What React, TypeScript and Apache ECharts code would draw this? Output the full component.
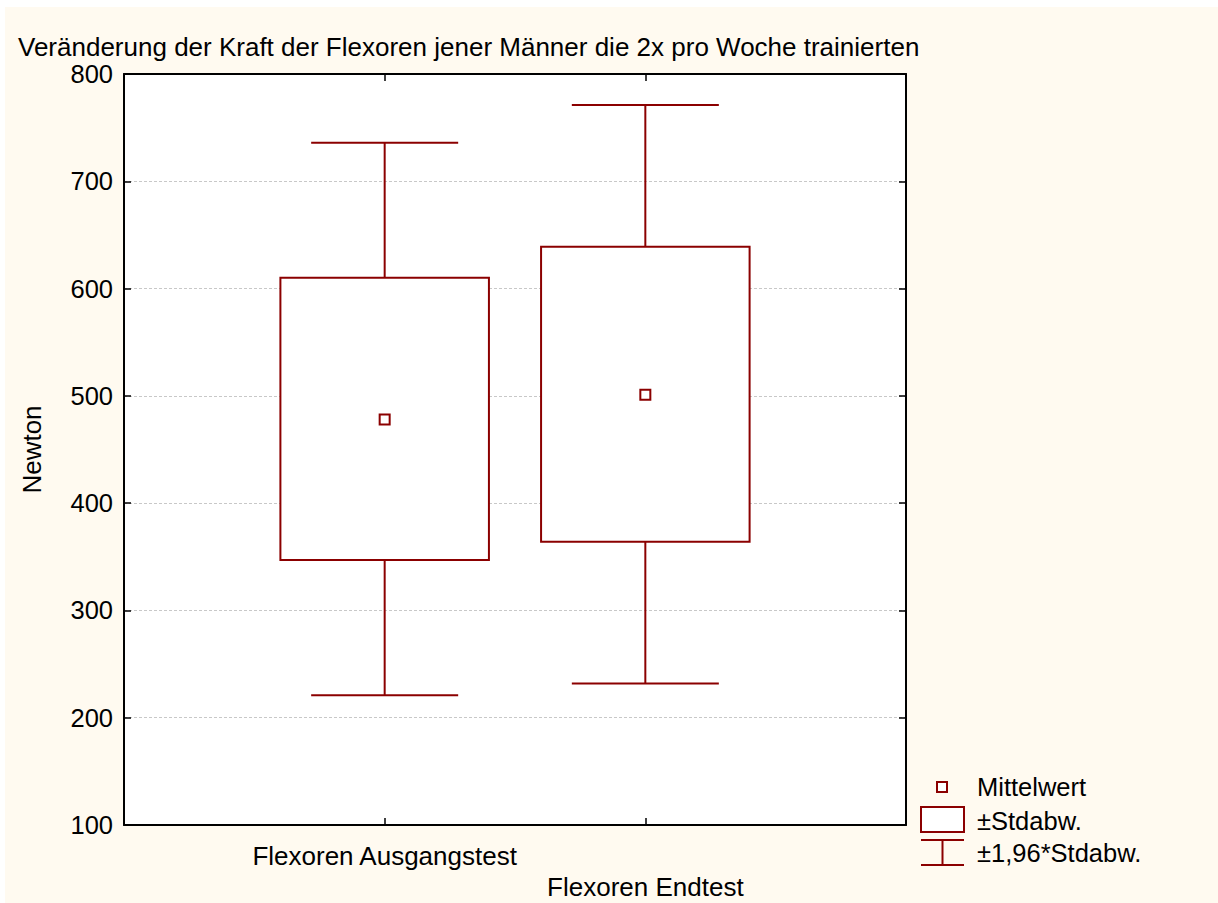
import React, { useEffect, useRef } from "react";
import * as echarts from "echarts";

const categories = ["Flexoren Ausgangstest", "Flexoren Endtest"];
const means = [478, 501];
const sdLower = [347, 364];
const sdUpper = [610, 639];
const ciLower = [221, 232];
const ciUpper = [736, 771];
const yTicks = [100, 200, 300, 400, 500, 600, 700, 800];

const RED = "#8b0000";
const FONT = "'Liberation Sans', Arial, Helvetica, sans-serif";
const FS = 25.5;
const LEG_FS = 25.5;

export default function App() {
  const ref = useRef<HTMLDivElement>(null);
  useEffect(() => {
    document.body.style.margin = "0";
    const chart = echarts.init(ref.current!, undefined, { renderer: "svg" });
    const data = categories.map((_, i) => [i + 1, means[i], sdLower[i], sdUpper[i], ciLower[i], ciUpper[i]]);
    const option: any = {
      animation: false,
      backgroundColor: "#ffffff",
      textStyle: { fontFamily: FONT },
      title: {
        text: "Veränderung der Kraft der Flexoren jener Männer die 2x pro Woche trainierten",
        left: 13,
        top: 29,
        textStyle: { fontFamily: FONT, fontSize: 26, fontWeight: "normal", color: "#000" },
      },
      grid: {
        left: 124,
        top: 74,
        right: 312,
        bottom: 78,
        show: true,
        backgroundColor: "#ffffff",
        borderWidth: 0,
      },
      xAxis: [
        {
          type: "value",
          min: 0,
          max: 3,
          interval: 1,
          position: "bottom",
          axisLine: { show: true, onZero: false, lineStyle: { color: "#000", width: 2 } },
          axisTick: { show: true, inside: true, length: 7, lineStyle: { color: "#000", width: 1.5 } },
          splitLine: { show: false },
          axisLabel: {
            margin: 15,
            fontFamily: FONT,
            fontSize: 26,
            color: "#000",
            lineHeight: 31,
            formatter: (v: number) => {
              const i = Math.round(v) - 1;
              if (i < 0 || i >= categories.length) return "";
              return i % 2 === 1 ? "\n" + categories[i] : categories[i];
            },
          },
        },
        {
          type: "value",
          min: 0,
          max: 3,
          interval: 1,
          position: "top",
          axisLine: { show: true, onZero: false, lineStyle: { color: "#000", width: 2 } },
          axisTick: { show: true, inside: true, length: 7, lineStyle: { color: "#000", width: 1.5 } },
          splitLine: { show: false },
          axisLabel: { show: false },
        },
      ],
      yAxis: [
        {
          type: "value",
          min: 100,
          max: 800,
          interval: 100,
          position: "left",
          name: "Newton",
          nameLocation: "middle",
          nameRotate: 90,
          nameGap: 79,
          nameTextStyle: { fontFamily: FONT, fontSize: 26, color: "#000" },
          axisLine: { show: true, onZero: false, lineStyle: { color: "#000", width: 2 } },
          axisTick: { show: true, inside: true, length: 7, lineStyle: { color: "#000", width: 1.5 } },
          splitLine: { show: true, lineStyle: { color: "#c8c8c8", width: 1, type: [3, 2] } },
          axisLabel: {
            margin: 11,
            fontFamily: FONT,
            fontSize: FS,
            color: "#000",
            formatter: (v: number) => (yTicks.includes(v) ? String(v) : ""),
          },
        },
        {
          type: "value",
          min: 100,
          max: 800,
          interval: 100,
          position: "right",
          axisLine: { show: true, onZero: false, lineStyle: { color: "#000", width: 2 } },
          axisTick: { show: true, inside: true, length: 7, lineStyle: { color: "#000", width: 1.5 } },
          splitLine: { show: false },
          axisLabel: { show: false },
        },
      ],
      series: [
        {
          type: "custom",
          xAxisIndex: 0,
          yAxisIndex: 0,
          encode: { x: 0, y: 1 },
          data,
          z: 5,
          renderItem: (params: any, api: any) => {
            const x = api.value(0);
            const unit = api.size([1, 0])[0];
            const boxHalf = unit * 0.4;
            const capHalf = unit * 0.282;
            const pm = api.coord([x, api.value(1)]);
            const psl = api.coord([x, api.value(2)]);
            const psu = api.coord([x, api.value(3)]);
            const pcl = api.coord([x, api.value(4)]);
            const pcu = api.coord([x, api.value(5)]);
            const ls = { stroke: RED, lineWidth: 2, fill: null };
            const cx = pm[0];
            return {
              type: "group",
              children: [
                { type: "line", shape: { x1: cx, y1: psu[1], x2: cx, y2: pcu[1] }, style: ls },
                { type: "line", shape: { x1: cx, y1: psl[1], x2: cx, y2: pcl[1] }, style: ls },
                { type: "line", shape: { x1: cx - capHalf, y1: pcu[1], x2: cx + capHalf, y2: pcu[1] }, style: ls },
                { type: "line", shape: { x1: cx - capHalf, y1: pcl[1], x2: cx + capHalf, y2: pcl[1] }, style: ls },
                {
                  type: "rect",
                  shape: { x: cx - boxHalf, y: psu[1], width: boxHalf * 2, height: psl[1] - psu[1] },
                  style: { stroke: RED, lineWidth: 2, fill: "#ffffff" },
                },
                {
                  type: "rect",
                  shape: { x: cx - 5, y: pm[1] - 5, width: 10, height: 10 },
                  style: { stroke: RED, lineWidth: 2, fill: "#ffffff" },
                },
              ],
            };
          },
        },
      ],
      graphic: [
        {
          type: "rect",
          silent: true,
          z: -10,
          shape: { x: 5, y: 7, width: 1213, height: 896 },
          style: { fill: "#fffaf0" },
        },
        {
          type: "rect",
          shape: { x: 937, y: 782, width: 10, height: 10 },
          style: { stroke: RED, lineWidth: 2, fill: "#ffffff" },
        },
        {
          type: "text",
          x: 977,
          y: 787,
          style: { text: "Mittelwert", fontFamily: FONT, fontSize: LEG_FS, fill: "#000", verticalAlign: "middle" },
        },
        {
          type: "rect",
          shape: { x: 921, y: 807, width: 43, height: 25 },
          style: { stroke: RED, lineWidth: 2, fill: "#ffffff" },
        },
        {
          type: "text",
          x: 977,
          y: 821,
          style: { text: "±Stdabw.", fontFamily: FONT, fontSize: LEG_FS, fill: "#000", verticalAlign: "middle" },
        },
        { type: "line", shape: { x1: 921, y1: 840, x2: 964, y2: 840 }, style: { stroke: RED, lineWidth: 2 } },
        { type: "line", shape: { x1: 921, y1: 865, x2: 964, y2: 865 }, style: { stroke: RED, lineWidth: 2 } },
        { type: "line", shape: { x1: 942.5, y1: 840, x2: 942.5, y2: 865 }, style: { stroke: RED, lineWidth: 2 } },
        {
          type: "text",
          x: 977,
          y: 853,
          style: { text: "±1,96*Stdabw.", fontFamily: FONT, fontSize: LEG_FS, fill: "#000", verticalAlign: "middle" },
        },
      ],
    };
    chart.setOption(option);
    return () => chart.dispose();
  }, []);
  return <div ref={ref} style={{ width: 1218, height: 903 }} />;
}
